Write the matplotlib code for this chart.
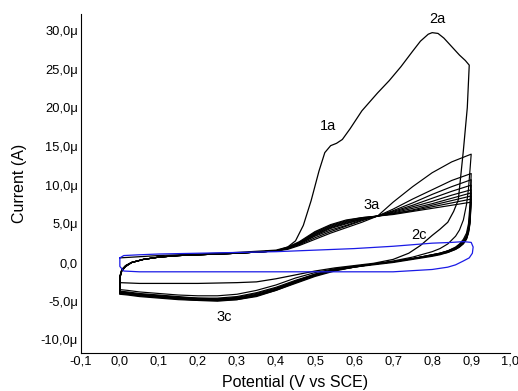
import matplotlib
matplotlib.use("Agg")
import matplotlib.pyplot as plt
from matplotlib.ticker import FuncFormatter, MultipleLocator

plt.rcParams['font.family'] = ['Liberation Sans', 'DejaVu Sans']

# first scan (uA)
E1_fwd = [0.0, 0.1, 0.2, 0.3, 0.4, 0.43, 0.45, 0.47, 0.49, 0.51, 0.525, 0.54, 0.555, 0.57, 0.59,
          0.62, 0.66, 0.69, 0.72, 0.75, 0.77, 0.79, 0.8, 0.815, 0.83, 0.85, 0.87, 0.885, 0.895]
I1_fwd = [0.6, 0.9, 1.1, 1.3, 1.6, 2.0, 2.8, 4.8, 8.0, 11.8, 14.2, 15.1, 15.4, 15.9, 17.3,
          19.6, 21.9, 23.5, 25.3, 27.3, 28.6, 29.5, 29.7, 29.6, 29.0, 27.9, 26.8, 26.1, 25.5]
E1_rev = [0.895, 0.89, 0.88, 0.867, 0.855, 0.84, 0.82, 0.8, 0.77, 0.74, 0.7, 0.65, 0.6, 0.55,
          0.5, 0.45, 0.4, 0.35, 0.3, 0.2, 0.1, 0.05, 0.0]
I1_rev = [25.5, 20.0, 14.5, 8.1, 6.6, 5.2, 4.3, 3.5, 2.2, 1.2, 0.4, -0.1, -0.4, -0.7,
          -1.1, -1.6, -2.1, -2.5, -2.6, -2.7, -2.7, -2.7, -2.6]

# later cycles share the potential grid
E_fwd = [0.0, 0.0, 0.005, 0.015, 0.03, 0.06, 0.1, 0.15, 0.2, 0.3, 0.4, 0.43, 0.46, 0.5, 0.54,
         0.58, 0.62, 0.66, 0.7, 0.75, 0.8, 0.85, 0.9]
E_rev = [0.9, 0.897, 0.893, 0.888, 0.88, 0.87, 0.86, 0.84, 0.82, 0.8, 0.75, 0.7, 0.65, 0.6,
         0.55, 0.5, 0.45, 0.4, 0.35, 0.3, 0.25, 0.2, 0.15, 0.1, 0.05, 0.02, 0.0]

I_fwd = [
    [-2.6, -1.8, -0.9, -0.4, 0.0, 0.4, 0.7, 0.9, 1.0, 1.2, 1.5, 1.7, 2.2, 3.0, 3.8, 4.5, 5.2, 6.0, 7.8, 9.8, 11.6, 13.0, 14.0],
    [-3.5, -1.8, -0.9, -0.4, 0.0, 0.4, 0.7, 0.9, 1.0, 1.2, 1.5, 1.8, 2.3, 3.2, 4.0, 4.7, 5.4, 6.0, 6.9, 8.2, 9.4, 10.6, 11.5],
    [-3.7, -1.9, -1.0, -0.4, 0.0, 0.4, 0.7, 0.9, 1.0, 1.2, 1.5, 1.8, 2.4, 3.4, 4.2, 4.8, 5.5, 6.0, 6.7, 7.7, 8.8, 9.8, 10.7],
    [-3.8, -1.9, -1.0, -0.4, 0.0, 0.4, 0.7, 0.9, 1.0, 1.2, 1.5, 1.8, 2.4, 3.5, 4.4, 5.0, 5.6, 6.0, 6.6, 7.4, 8.3, 9.2, 10.0],
    [-3.8, -1.9, -1.0, -0.5, 0.0, 0.4, 0.7, 0.9, 1.0, 1.2, 1.5, 1.9, 2.5, 3.6, 4.5, 5.1, 5.6, 6.0, 6.5, 7.2, 7.9, 8.7, 9.4],
    [-3.9, -2.0, -1.0, -0.5, 0.0, 0.4, 0.7, 0.9, 1.0, 1.2, 1.5, 1.9, 2.5, 3.7, 4.6, 5.2, 5.7, 6.0, 6.4, 7.0, 7.6, 8.3, 9.0],
    [-3.9, -2.0, -1.0, -0.5, 0.0, 0.4, 0.7, 0.9, 1.0, 1.2, 1.5, 1.9, 2.6, 3.8, 4.7, 5.3, 5.7, 6.0, 6.3, 6.8, 7.4, 8.0, 8.6],
    [-4.0, -2.0, -1.1, -0.5, 0.0, 0.4, 0.7, 0.9, 1.0, 1.2, 1.5, 1.9, 2.6, 3.9, 4.8, 5.4, 5.8, 6.0, 6.3, 6.7, 7.2, 7.7, 8.2],
    [-4.0, -2.0, -1.1, -0.5, 0.0, 0.4, 0.7, 0.9, 1.0, 1.2, 1.5, 2.0, 2.7, 4.0, 4.9, 5.5, 5.8, 6.0, 6.2, 6.6, 7.0, 7.4, 7.8],
]
I_rev = [
    [14.0, 12.0, 9.5, 7.5, 5.5, 4.2, 3.4, 2.4, 1.8, 1.4, 0.7, 0.2, -0.2, -0.5, -0.8, -1.3, -2.0, -2.9, -3.6, -4.1, -4.3, -4.3, -4.2, -4.0, -3.8, -3.6, -3.5],
    [11.5, 7.5, 5.0, 3.8, 3.0, 2.4, 2.0, 1.5, 1.2, 1.0, 0.5, 0.1, -0.2, -0.5, -0.9, -1.5, -2.3, -3.2, -3.9, -4.4, -4.6, -4.6, -4.4, -4.2, -4.0, -3.8, -3.7],
    [10.7, 6.5, 4.5, 3.5, 2.8, 2.3, 1.9, 1.5, 1.2, 1.0, 0.5, 0.1, -0.2, -0.5, -0.9, -1.5, -2.4, -3.3, -4.0, -4.5, -4.7, -4.6, -4.5, -4.3, -4.1, -3.9, -3.8],
    [10.0, 6.0, 4.3, 3.4, 2.7, 2.2, 1.9, 1.5, 1.2, 1.0, 0.5, 0.1, -0.2, -0.5, -0.9, -1.6, -2.4, -3.4, -4.1, -4.6, -4.7, -4.7, -4.5, -4.3, -4.1, -3.9, -3.8],
    [9.4, 5.8, 4.2, 3.3, 2.6, 2.2, 1.8, 1.4, 1.1, 0.9, 0.5, 0.1, -0.2, -0.5, -1.0, -1.6, -2.5, -3.4, -4.2, -4.6, -4.8, -4.7, -4.6, -4.4, -4.2, -4.0, -3.9],
    [9.0, 5.6, 4.1, 3.2, 2.6, 2.1, 1.8, 1.4, 1.1, 0.9, 0.5, 0.1, -0.2, -0.6, -1.0, -1.6, -2.5, -3.5, -4.2, -4.7, -4.8, -4.8, -4.6, -4.4, -4.2, -4.0, -3.9],
    [8.6, 5.4, 4.0, 3.1, 2.5, 2.1, 1.8, 1.4, 1.1, 0.9, 0.5, 0.1, -0.2, -0.6, -1.0, -1.7, -2.6, -3.5, -4.3, -4.7, -4.9, -4.8, -4.7, -4.5, -4.3, -4.1, -4.0],
    [8.2, 5.2, 3.9, 3.1, 2.5, 2.0, 1.7, 1.3, 1.1, 0.9, 0.5, 0.1, -0.2, -0.6, -1.0, -1.7, -2.6, -3.6, -4.3, -4.8, -4.9, -4.9, -4.7, -4.5, -4.3, -4.1, -4.0],
    [7.8, 5.0, 3.8, 3.0, 2.4, 2.0, 1.7, 1.3, 1.0, 0.8, 0.4, 0.0, -0.3, -0.6, -1.1, -1.8, -2.7, -3.6, -4.4, -4.8, -5.0, -4.9, -4.8, -4.6, -4.4, -4.2, -4.1],
]

# blue reference loop
E_blue = [0.0, 0.01, 0.05, 0.1, 0.2, 0.3, 0.4, 0.5, 0.6, 0.7, 0.8, 0.85, 0.88, 0.9, 0.905, 0.903,
          0.895, 0.88, 0.86, 0.84, 0.8, 0.7, 0.6, 0.5, 0.4, 0.3, 0.2, 0.1, 0.05, 0.01, 0.0, 0.0]
I_blue = [0.6, 0.9, 1.0, 1.1, 1.2, 1.3, 1.4, 1.6, 1.8, 2.1, 2.5, 2.6, 2.7, 2.6, 2.0, 1.2,
          0.6, 0.2, -0.3, -0.6, -0.9, -1.2, -1.2, -1.2, -1.2, -1.2, -1.2, -1.2, -1.2, -1.1, -0.5, 0.6]

labels = ["1a", "2a", "3a", "2c", "3c"]
label_E = [0.533, 0.813, 0.646, 0.767, 0.267]
label_I = [17.7, 31.4, 7.4, 3.6, -7.0]

fig = plt.figure(figsize=(5.18, 3.91), dpi=100)
ax = fig.add_axes([0.156, 0.097, 0.829, 0.867])

for fi, ri in zip(I_fwd, I_rev):
    ax.plot(E_fwd + E_rev, fi + ri, color='black', lw=0.85)
ax.plot(E1_fwd + E1_rev, I1_fwd + I1_rev, color='black', lw=0.9)
ax.plot(E_blue, I_blue, color='#1a1ae6', lw=0.9)

for t, x, y in zip(labels, label_E, label_I):
    ax.text(x, y, t, fontsize=10.5, ha='center', va='center')

ax.set_xlim(-0.1, 1.0)
ax.set_ylim(-11.7, 32.1)
ax.xaxis.set_major_locator(MultipleLocator(0.1))
ax.yaxis.set_major_locator(MultipleLocator(5))
ax.xaxis.set_major_formatter(FuncFormatter(lambda v, p: f"{v:.1f}".replace('.', ',')))
ax.yaxis.set_major_formatter(FuncFormatter(
    lambda v, p: "0,0" if abs(v) < 1e-9 else f"{v:.1f}".replace('.', ',') + "μ"))
ax.tick_params(length=0, labelsize=9.3, pad=2)
ax.spines['top'].set_visible(False)
ax.spines['right'].set_visible(False)
ax.set_xlabel("Potential (V vs SCE)", fontsize=11.5, labelpad=5)
ax.set_ylabel("Current (A)", fontsize=11.5, labelpad=10)

fig.savefig("out.png", dpi=100)
